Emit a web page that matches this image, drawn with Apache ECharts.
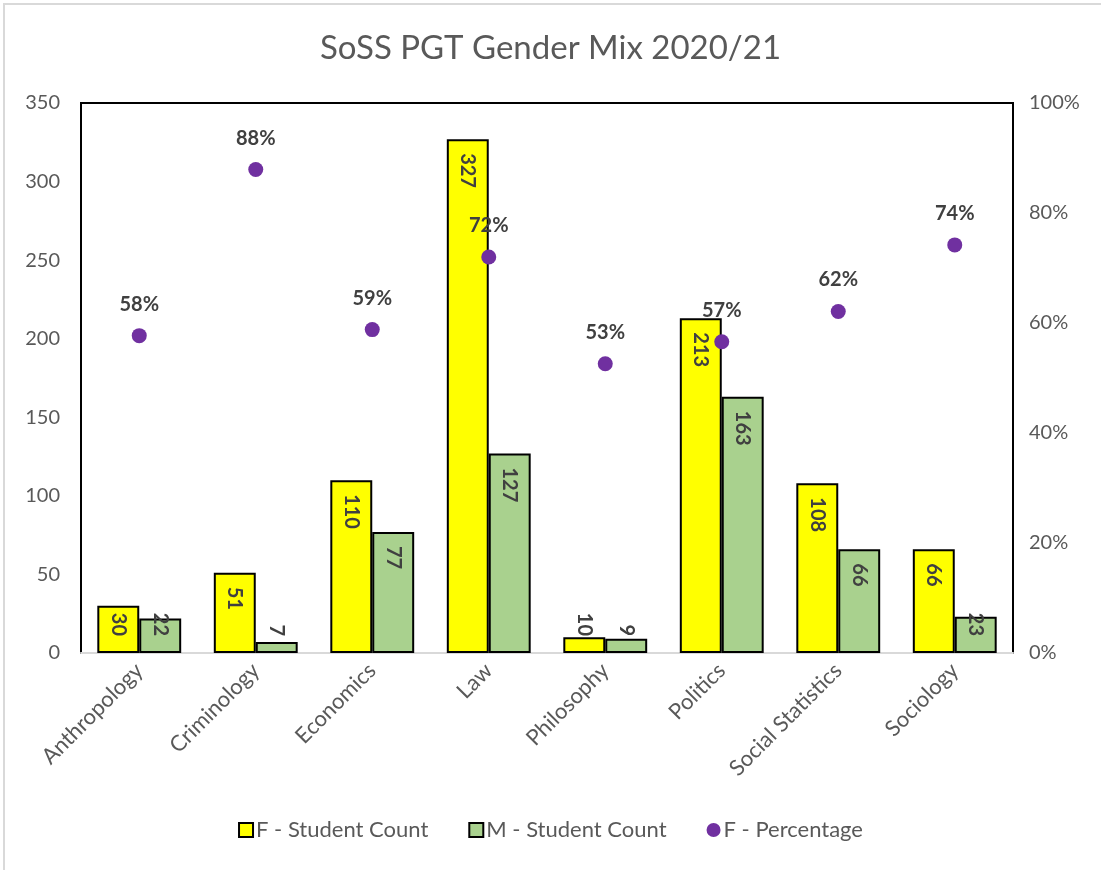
<!DOCTYPE html>
<html>
<head>
<meta charset="utf-8">
<script src="https://cdn.jsdelivr.net/npm/echarts@6/dist/echarts.min.js"></script>
<style>
html,body{margin:0;padding:0;background:#fff;}
#chart{width:1101px;height:870px;}
</style>
</head>
<body>
<div id="chart"></div>
<script>
const categories = ['Anthropology','Criminology','Economics','Law','Philosophy','Politics','Social Statistics','Sociology'];
const femaleCount = [30, 51, 110, 327, 10, 213, 108, 66];
const maleCount = [22, 7, 77, 127, 9, 163, 66, 23];
const femalePct = [0.577, 0.879, 0.588, 0.720, 0.526, 0.566, 0.621, 0.742];
const leftTicks = {min: 0, max: 350, interval: 50};
const rightTicks = {min: 0, max: 1, interval: 0.2};

const FONT = 'Lato, "Open Sans", sans-serif';
const GRAY = '#595959';
const LABEL = '#404040';

function barData(values) {
  return values.map(v => {
    const small = v < 40;
    return {
      value: v,
      label: small
        ? {position: 'insideBottom', distance: 17, align: 'right'}
        : {position: 'insideTop', distance: 14, align: 'left'}
    };
  });
}

const barLabel = {
  show: true,
  rotate: -90,
  verticalAlign: 'middle',
  color: LABEL,
  fontFamily: FONT,
  fontWeight: 'bold',
  fontSize: 20
};

const chart = echarts.init(document.getElementById('chart'), null, {renderer: 'canvas'});
chart.setOption({
  backgroundColor: '#fff',
  animation: false,
  textStyle: {fontFamily: FONT},
  graphic: [{
    type: 'rect',
    shape: {x: 4, y: 4, width: 1200, height: 1000},
    style: {fill: 'none', stroke: '#d9d9d9', lineWidth: 2},
    silent: true
  }],
  title: {
    text: 'SoSS PGT Gender Mix 2020/21',
    left: 'center',
    top: 27,
    textStyle: {fontFamily: FONT, fontWeight: 'normal', fontSize: 33, color: GRAY}
  },
  legend: {
    bottom: 24,
    left: 'center',
    itemWidth: 14,
    itemHeight: 14,
    itemGap: 40,
    textStyle: {fontFamily: FONT, fontSize: 22, color: GRAY, padding: [0, 0, 0, -2]},
    data: [
      {name: 'F - Student Count', icon: 'rect', itemStyle: {color: '#FFFF00', borderColor: '#000', borderWidth: 2}},
      {name: 'M - Student Count', icon: 'rect', itemStyle: {color: '#A9D18E', borderColor: '#000', borderWidth: 2}},
      {name: 'F - Percentage', icon: 'circle', itemStyle: {color: '#7030A0', borderWidth: 0, opacity: 1}}
    ]
  },
  grid: {
    left: 81, top: 103, width: 932, height: 550,
    show: true, borderColor: '#000', borderWidth: 2, backgroundColor: 'transparent',
    containLabel: false
  },
  xAxis: {
    type: 'category',
    data: categories,
    axisLine: {show: true, lineStyle: {color: '#d9d9d9', width: 2}},
    axisTick: {show: false},
    axisLabel: {rotate: 45, interval: 0, margin: 14, color: GRAY, fontFamily: FONT, fontSize: 22}
  },
  yAxis: [{
    type: 'value',
    min: leftTicks.min, max: leftTicks.max, interval: leftTicks.interval,
    axisLine: {show: false}, axisTick: {show: false}, splitLine: {show: false},
    axisLabel: {color: GRAY, fontFamily: FONT, fontSize: 20, margin: 21}
  }, {
    type: 'value',
    position: 'right',
    min: rightTicks.min, max: rightTicks.max, interval: rightTicks.interval,
    axisLine: {show: false}, axisTick: {show: false}, splitLine: {show: false},
    axisLabel: {color: GRAY, fontFamily: FONT, fontSize: 20, margin: 16,
      formatter: v => Math.round(v * 100) + '%'}
  }],
  series: [{
    name: 'F - Student Count',
    type: 'bar',
    yAxisIndex: 0,
    barGap: '0%',
    barCategoryGap: '28%',
    itemStyle: {color: '#FFFF00', borderColor: '#000', borderWidth: 2},
    label: barLabel,
    data: barData(femaleCount),
    z: 2
  }, {
    name: 'M - Student Count',
    type: 'bar',
    yAxisIndex: 0,
    barGap: '0%',
    barCategoryGap: '28%',
    itemStyle: {color: '#A9D18E', borderColor: '#000', borderWidth: 2},
    label: barLabel,
    data: barData(maleCount),
    z: 2
  }, {
    name: 'F - Percentage',
    type: 'scatter',
    yAxisIndex: 1,
    symbol: 'circle',
    symbolSize: 15,
    itemStyle: {color: '#7030A0', opacity: 1},
    label: {
      show: true, position: 'top', distance: 14,
      color: LABEL, fontFamily: FONT, fontWeight: 'bold', fontSize: 20,
      formatter: p => Math.round(p.value * 100) + '%'
    },
    data: femalePct,
    z: 5
  }]
});
</script>
</body>
</html>
